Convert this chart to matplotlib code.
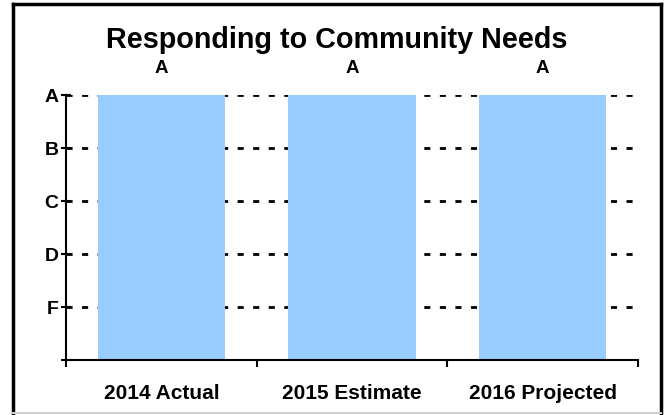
import matplotlib
matplotlib.use("Agg")
import matplotlib.pyplot as plt
from matplotlib.lines import Line2D

categories = ["2014 Actual", "2015 Estimate", "2016 Projected"]
values = [5, 5, 5]              # grade scale: F=1, D=2, C=3, B=4, A=5
value_labels = ["A", "A", "A"]
grade_ticks = [0, 1, 2, 3, 4, 5]
grade_labels = ["", "F", "D", "C", "B", "A"]
title = "Responding to Community Needs"

plt.rcParams['font.family'] = ['Liberation Sans', 'DejaVu Sans']

fig = plt.figure(figsize=(6.65, 4.15), dpi=100)
W, H = 665, 415
ax = fig.add_axes([66 / W, 1 - 360 / H, (638 - 66) / W, (360 - 95.5) / H])

x = list(range(len(categories)))
ax.bar(x, values, width=0.667, color="#99CCFF", zorder=2)
ax.set_xlim(-0.5, len(categories) - 0.5)
ax.set_ylim(0, 5)

for xi, v, lab in zip(x, values, value_labels):
    ax.annotate(lab, (xi, v), xytext=(0, 16), textcoords="offset points",
                ha="center", va="baseline", fontsize=13.5, fontweight="bold")

ax.set_yticks(grade_ticks)
ax.set_yticklabels(grade_labels, fontsize=14, fontweight="bold")
ax.set_xticks([-0.5, 0.5, 1.5, 2.5])
ax.set_xticklabels([])
ax.set_xticks(x, minor=True)
ax.set_xticklabels(categories, minor=True, fontsize=15, fontweight="bold")
ax.tick_params(axis="x", which="minor", length=0, pad=17.5)
ax.tick_params(axis="x", which="major", direction="out", length=5, width=1.5)
ax.tick_params(axis="y", direction="inout", length=7, width=1.5, pad=2)

ax.yaxis.grid(True, color="black", linewidth=2, linestyle=(0, (2.2, 3.4)))
ax.set_axisbelow(True)
for s in ["top", "right"]:
    ax.spines[s].set_visible(False)
for s in ["left", "bottom"]:
    ax.spines[s].set_linewidth(1.5)
    ax.spines[s].set_zorder(3)

fig.text(337 / W, 1 - 48.5 / H, title, ha="center", va="baseline",
         fontsize=20.7, fontweight="bold")

# figure frame
fig.add_artist(Line2D([13 / W, 13 / W], [1 - 413 / H, 1 - 4 / H], color="black", lw=2.5, transform=fig.transFigure))
fig.add_artist(Line2D([13 / W, 661 / W], [1 - 4 / H, 1 - 4 / H], color="black", lw=2.5, transform=fig.transFigure))
fig.add_artist(Line2D([661 / W, 661 / W], [1 - 413 / H, 1 - 4 / H], color="black", lw=2.5, transform=fig.transFigure))
fig.add_artist(Line2D([13 / W, 661 / W], [1 - 413 / H, 1 - 413 / H], color="#d0d0d0", lw=1.5, transform=fig.transFigure))

fig.savefig("out.png", dpi=100)
